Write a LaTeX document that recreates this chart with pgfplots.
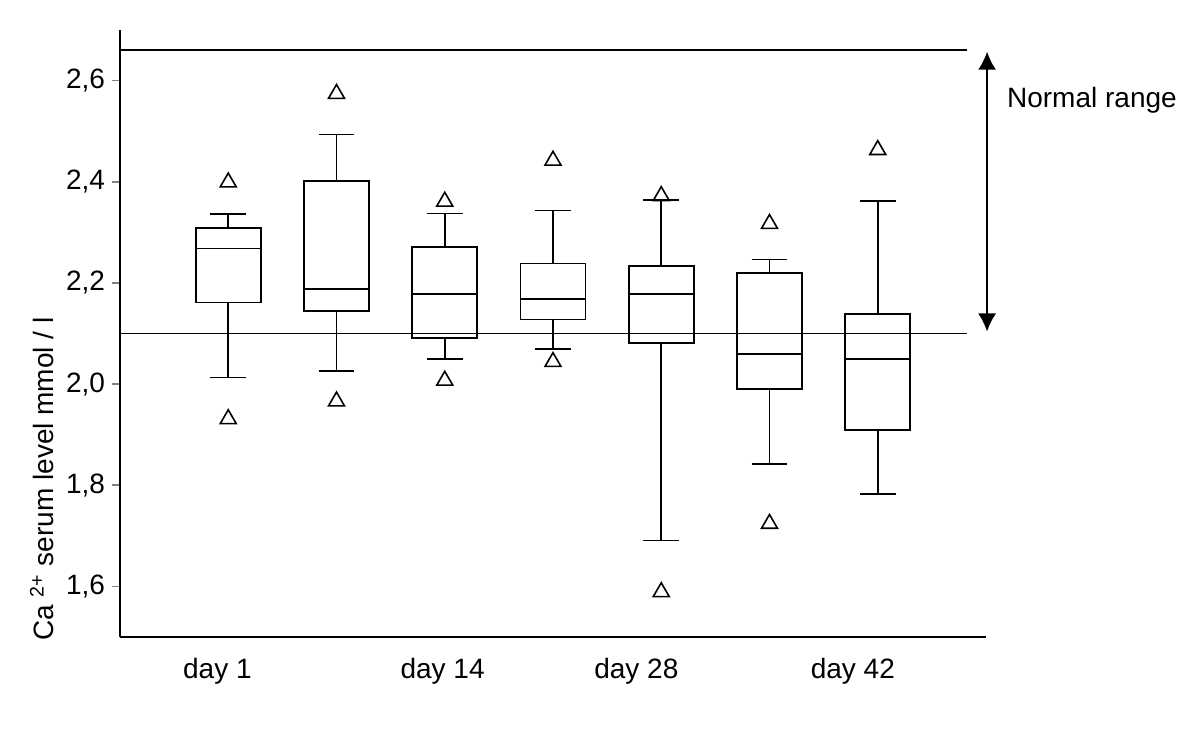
\documentclass[border=0pt]{standalone}
\usepackage{fontspec}
\setmainfont{Liberation Sans}
\usepackage{pgfplots}
\pgfplotsset{compat=1.18}
\usepgfplotslibrary{statistics}
\usetikzlibrary{arrows.meta}
\begin{document}
\begin{tikzpicture}[font=\fontsize{14}{17}\selectfont]
 \begin{axis}[at={(0,0)},anchor=south west,scale only axis,width=433pt,height=303.5pt,
  xmin=0,xmax=8,ymin=1.5,ymax=2.7,axis lines*=left,clip=false,
  axis line style={line width=0.8pt},
  xtick={0.9,2.98,4.77,6.77},xticklabels={day 1,day 14,day 28,day 42},
  major x tick style={draw=none},xticklabel style={yshift=-3pt},
  ytick={1.6,1.8,2.0,2.2,2.4,2.6},tick align=outside,major tick length=4pt,
  major y tick style={line width=0.8pt},
  /pgf/number format/.cd,use comma,fixed,fixed zerofill,precision=1,assume math mode=true,
  /pgfplots/.cd,
  ylabel={Ca \textsuperscript{2+} serum level mmol / l},
  ylabel style={at={(axis description cs:-0.09,0.26)},anchor=center},
  every axis plot/.append style={black,line width=0.8pt},
  boxplot/draw direction=y,boxplot/box extend=0.6,boxplot/whisker extend=0.33]
  % normal range limits
  \addplot[mark=none] coordinates {(0,2.66)(7.82,2.66)};
  \addplot[mark=none] coordinates {(0,2.10)(7.82,2.10)};
  % boxes
  \addplot[boxplot prepared={draw position=1,lower whisker=2.013,lower quartile=2.161,median=2.268,upper quartile=2.309,upper whisker=2.336}] coordinates {};
  \addplot[boxplot prepared={draw position=2,lower whisker=2.026,lower quartile=2.144,median=2.188,upper quartile=2.401,upper whisker=2.493}] coordinates {};
  \addplot[boxplot prepared={draw position=3,lower whisker=2.050,lower quartile=2.091,median=2.178,upper quartile=2.271,upper whisker=2.337}] coordinates {};
  \addplot[boxplot prepared={draw position=4,lower whisker=2.069,lower quartile=2.128,median=2.168,upper quartile=2.238,upper whisker=2.343}] coordinates {};
  \addplot[boxplot prepared={draw position=5,lower whisker=1.691,lower quartile=2.081,median=2.178,upper quartile=2.233,upper whisker=2.364}] coordinates {};
  \addplot[boxplot prepared={draw position=6,lower whisker=1.842,lower quartile=1.990,median=2.059,upper quartile=2.220,upper whisker=2.246}] coordinates {};
  \addplot[boxplot prepared={draw position=7,lower whisker=1.783,lower quartile=1.909,median=2.049,upper quartile=2.138,upper whisker=2.362}] coordinates {};
  % extreme values
  \addplot[only marks,mark=triangle,mark size=4.6pt,mark options={line width=0.8pt}] coordinates {
   (1,2.399)(1,1.931)(2,2.574)(2,1.966)(3,2.361)(3,2.007)(4,2.442)(4,2.044)
   (5,2.372)(5,1.589)(6,2.317)(6,1.724)(7,2.463)};
  \draw[{Latex[width=9pt,length=9pt]}-{Latex[width=9pt,length=9pt]},line width=0.8pt] (axis cs:8.01,2.657) -- (axis cs:8.01,2.104);
  \node[anchor=west] at (axis cs:8.13,2.562) {Normal range};
 \end{axis}
 \path[use as bounding box] (-60pt,-47.5pt) rectangle (540pt,318.5pt);
\end{tikzpicture}
\end{document}
